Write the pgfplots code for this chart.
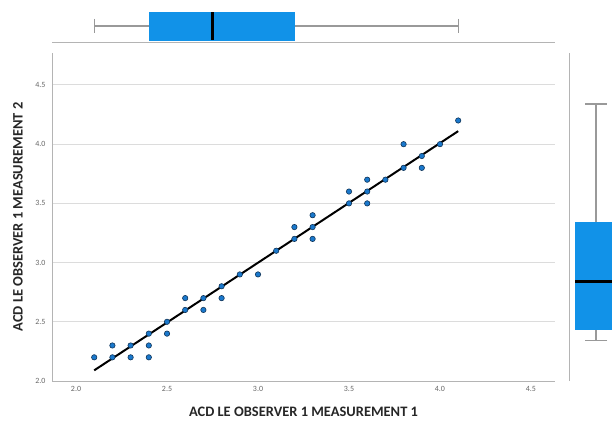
\documentclass[border=0pt]{standalone}
\usepackage{pgfplots}
\pgfplotsset{compat=1.18}
\usepgfplotslibrary{statistics}
\usepackage{fontspec}
\setmainfont{Carlito}
\definecolor{boxblue}{HTML}{1192E8}
\definecolor{ptblue}{HTML}{1A78CC}
\definecolor{ptedge}{HTML}{0F3458}
\definecolor{axgray}{HTML}{B4B4B4}
\definecolor{gridgray}{HTML}{DCDCDC}
\definecolor{ticktext}{HTML}{666666}

\begin{document}
\begin{tikzpicture}
\useasboundingbox (0bp,0bp) rectangle (612bp,422bp);

% scatter panel
\begin{axis}[
    at={(52bp,41bp)}, anchor=south west,
    scale only axis, width=503bp, height=328bp,
    xmin=1.868, xmax=4.632, ymin=2, ymax=4.77,
    axis x line*=bottom, axis y line*=left,
    axis line style={axgray, line width=1pt},
    xtick={2,2.5,3,3.5,4,4.5}, ytick={2,2.5,3,3.5,4,4.5},
    ymajorgrids, grid style={gridgray, line width=1pt},
    major tick length=0pt,
    tick label style={font=\fontsize{8}{9}\selectfont, color=ticktext},
    xticklabel style={yshift=-2bp},
    yticklabel style={xshift=-3bp},
    /pgf/number format/.cd, fixed, fixed zerofill, precision=1, assume math mode=true,
    /pgfplots/.cd,
    xlabel={ACD LE OBSERVER 1 MEASUREMENT 1},
    ylabel={ACD LE OBSERVER 1 MEASUREMENT 2},
    label style={font=\bfseries\fontsize{14.5}{16}\selectfont, color=black!85},
    x label style={at={(axis description cs:0.5,-0.0945)}, anchor=center},
    y label style={at={(axis description cs:-0.0676,0.5)}, anchor=center},
]
\addplot[only marks, mark=*, mark size=2.7bp,
    mark options={fill=ptblue, draw=ptedge, line width=0.6pt}] coordinates {
(2.1,2.2)
(2.2,2.2) (2.2,2.3)
(2.3,2.2) (2.3,2.3)
(2.4,2.2) (2.4,2.3) (2.4,2.4)
(2.5,2.4) (2.5,2.5)
(2.6,2.6) (2.6,2.7)
(2.7,2.6) (2.7,2.7)
(2.8,2.7) (2.8,2.8)
(2.9,2.9)
(3.0,2.9)
(3.1,3.1)
(3.2,3.2) (3.2,3.3)
(3.3,3.2) (3.3,3.3) (3.3,3.4)
(3.5,3.5) (3.5,3.6)
(3.6,3.5) (3.6,3.6) (3.6,3.7)
(3.7,3.7)
(3.8,3.8) (3.8,4.0)
(3.9,3.8) (3.9,3.9)
(4.0,4.0)
(4.1,4.2)
};
% fit line
\addplot[black, line width=2pt] coordinates {(2.1,2.09) (4.1,4.11)};
\end{axis}

% marginal box plot, measurement 1
\begin{axis}[
    at={(52bp,379bp)}, anchor=south west,
    scale only axis, width=503bp, height=35bp,
    xmin=1.868, xmax=4.632, ymin=0, ymax=35,
    axis x line*=bottom, hide y axis,
    axis line style={axgray, line width=1pt},
    xtick=\empty,
    boxplot/every whisker/.style={draw=gray!80, line width=1.2pt},
    boxplot/every median/.style={draw=black, line width=2.4pt},
]
\addplot[draw=boxblue, fill=boxblue, boxplot prepared={
    lower whisker=2.1, lower quartile=2.4, median=2.75,
    upper quartile=3.2, upper whisker=4.1,
    draw position=17, box extend=28, whisker extend=14}]
    coordinates {};
\end{axis}

% marginal box plot, measurement 2
\begin{axis}[
    at={(569bp,41bp)}, anchor=south west,
    scale only axis, width=43bp, height=328bp,
    xmin=0, xmax=43, ymin=1.86, ymax=4.63,
    axis y line*=left, hide x axis,
    axis line style={axgray, line width=1pt},
    ytick=\empty,
    boxplot/draw direction=y,
    boxplot/every whisker/.style={draw=gray!80, line width=1.2pt},
    boxplot/every median/.style={draw=black, line width=2.4pt},
]
\addplot[draw=boxblue, fill=boxblue, boxplot prepared={
    lower whisker=2.2, lower quartile=2.3, median=2.7,
    upper quartile=3.2, upper whisker=4.2,
    draw position=27, box extend=42, whisker extend=22}]
    coordinates {};
\end{axis}
\end{tikzpicture}
\end{document}
